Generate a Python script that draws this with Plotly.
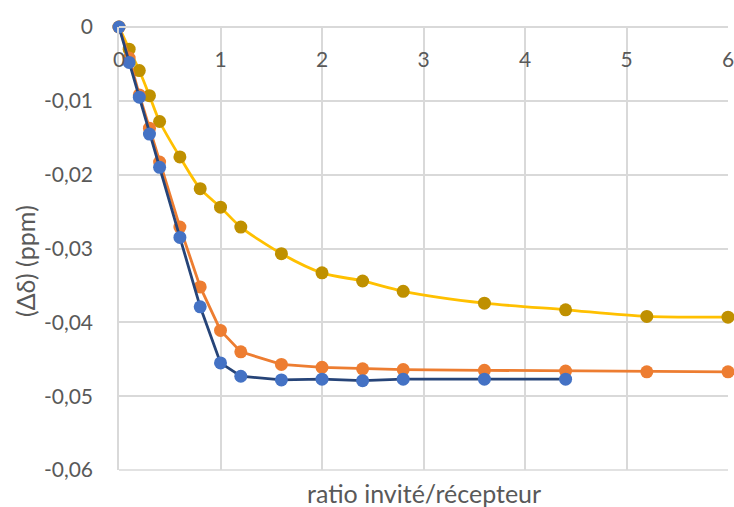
import plotly.graph_objects as go

# ---- data ----
x_ratio = [0, 0.1, 0.2, 0.3, 0.4, 0.6, 0.8, 1.0, 1.2, 1.6, 2.0, 2.4, 2.8, 3.6, 4.4, 5.2, 6.0]
y_yellow = [0, -0.0030, -0.0059, -0.0093, -0.0128, -0.0176, -0.0219, -0.0244, -0.0271,
            -0.0307, -0.0333, -0.0344, -0.0358, -0.0374, -0.0383, -0.0392, -0.0393]
y_orange = [0, -0.0042, -0.0092, -0.0137, -0.0183, -0.0271, -0.0352, -0.0411, -0.0440,
            -0.0457, -0.0461, -0.0463, -0.0464, -0.0465, -0.0466, -0.0467, -0.0467]
x_blue = [0, 0.1, 0.2, 0.3, 0.4, 0.6, 0.8, 1.0, 1.2, 1.6, 2.0, 2.4, 2.8, 3.6, 4.4]
y_blue = [0, -0.0048, -0.0095, -0.0145, -0.0190, -0.0285, -0.0379, -0.0455, -0.0473,
          -0.0478, -0.0477, -0.0479, -0.0477, -0.0477, -0.0477]

x_tickvals = [0, 1, 2, 3, 4, 5, 6]
x_ticktext = ["0", "1", "2", "3", "4", "5", "6"]
y_tickvals = [0, -0.01, -0.02, -0.03, -0.04, -0.05, -0.06]
y_ticktext = ["0", "-0,01", "-0,02", "-0,03", "-0,04", "-0,05", "-0,06"]

x_title = "ratio invité/récepteur"
y_title = "(Δδ) (ppm)"

FONT = "Lato, Carlito, Calibri, sans-serif"
TXT = "#595959"
GRID = "#D9D9D9"

W, H = 734, 507
ML, MR, MT, MB = 119, 6, 27, 37
PW, PH = W - ML - MR, H - MT - MB

fig = go.Figure()
fig.add_trace(go.Scatter(
    x=x_ratio, y=y_yellow, mode="lines+markers",
    line=dict(color="#FFC000", width=2.8, shape="spline", smoothing=0.8),
    marker=dict(color="#BF9000", size=13), cliponaxis=False, showlegend=False))
fig.add_trace(go.Scatter(
    x=x_ratio, y=y_orange, mode="lines+markers",
    line=dict(color="#ED7D31", width=2.8),
    marker=dict(color="#ED7D31", size=13), cliponaxis=False, showlegend=False))
fig.add_trace(go.Scatter(
    x=x_blue, y=y_blue, mode="lines+markers",
    line=dict(color="#264478", width=2.8),
    marker=dict(color="#4472C4", size=13), cliponaxis=False, showlegend=False))

fig.update_layout(
    width=W, height=H,
    margin=dict(l=ML, r=MR, t=MT, b=MB),
    paper_bgcolor="white", plot_bgcolor="white",
    font=dict(family=FONT, size=21, color=TXT),
    xaxis=dict(range=[0, 6], anchor="free", position=1, side="bottom",
               tickvals=x_tickvals, ticktext=x_ticktext,
               showgrid=True, gridcolor=GRID, gridwidth=1.5,
               zeroline=False, showline=True, linecolor=GRID, linewidth=1.5,
               ticks="", ticklabelstandoff=14, ticklabeloverflow="allow",
               automargin=False),
    yaxis=dict(range=[-0.06, 0], domain=[0, 1], tickvals=y_tickvals, ticktext=y_ticktext,
               showgrid=True, gridcolor=GRID, gridwidth=1.5,
               zeroline=False, showline=True, linecolor=GRID, linewidth=1.5,
               ticks="", ticklabelstandoff=20, ticklabeloverflow="allow",
               automargin=False),
    shapes=[dict(type="line", xref="paper", yref="paper", x0=0, x1=1, y0=0, y1=0,
                 line=dict(color=GRID, width=1.5), layer="below")],
    annotations=[
        dict(text=x_title, xref="paper", yref="paper", x=(424-119)/PW, y=-23/PH,
             xanchor="center", yanchor="middle", showarrow=False,
             font=dict(family=FONT, size=25, color=TXT)),
        dict(text=y_title, xref="paper", yref="paper", x=(25-119)/PW, y=(470-261)/PH,
             xanchor="center", yanchor="middle", showarrow=False, textangle=-90,
             font=dict(family=FONT, size=25, color=TXT)),
    ],
)

fig.write_html("out.html",
               config={"displayModeBar": False},
               post_script="document.body.style.margin='0';document.body.style.overflow='hidden';")
